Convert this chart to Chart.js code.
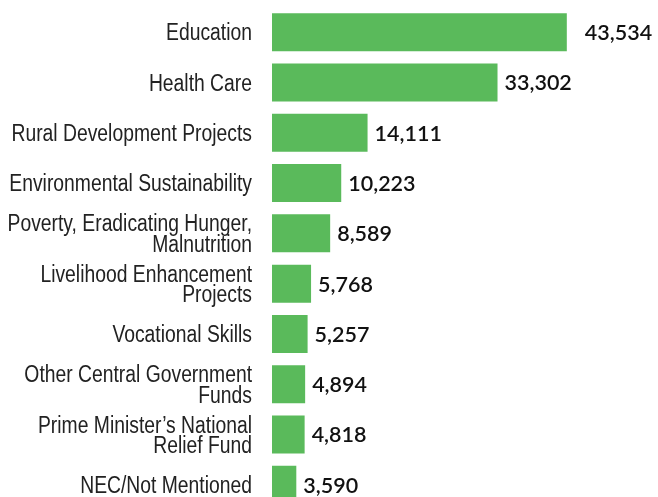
<!DOCTYPE html>
<html>
<head>
<meta charset="utf-8">
<script src="https://cdn.jsdelivr.net/npm/chart.js@4/dist/chart.umd.min.js"></script>
<style>
html,body{margin:0;padding:0;background:#fff;overflow:hidden;}
#wrap{position:relative;width:658px;height:510px;}
</style>
</head>
<body>
<div id="wrap"><canvas id="c" width="658" height="510"></canvas></div>
<script>
const categories = [
  "Education",
  "Health Care",
  "Rural Development Projects",
  "Environmental Sustainability",
  ["Poverty, Eradicating Hunger,", "Malnutrition"],
  ["Livelihood Enhancement", "Projects"],
  "Vocational Skills",
  ["Other Central Government", "Funds"],
  ["Prime Minister\u2019s National", "Relief Fund"],
  "NEC/Not Mentioned"
];
const spending = [43534, 33302, 14111, 10223, 8589, 5768, 5257, 4894, 4818, 3590];

// Category labels drawn in a condensed style (Liberation Sans squeezed horizontally)
const categoryLabels = {
  id: 'categoryLabels',
  afterDraw(chart) {
    const ctx = chart.ctx;
    const y = chart.scales.y;
    const right = chart.chartArea.left - 20;
    const sx = 0.84;
    const lh = 20.5;
    ctx.save();
    ctx.font = '23px "Liberation Sans", Arial, sans-serif';
    ctx.fillStyle = '#222';
    ctx.textAlign = 'right';
    ctx.textBaseline = 'middle';
    ctx.scale(sx, 1);
    chart.data.labels.forEach((lab, i) => {
      const lines = Array.isArray(lab) ? lab : [lab];
      const cy = y.getPixelForTick(i) + 2;
      const start = cy - (lines.length - 1) * lh / 2;
      lines.forEach((ln, j) => ctx.fillText(ln, right / sx, start + j * lh));
    });
    ctx.restore();
  }
};

const valueLabels = {
  id: 'valueLabels',
  afterDatasetsDraw(chart) {
    const ctx = chart.ctx;
    const meta = chart.getDatasetMeta(0);
    const data = chart.data.datasets[0].data;
    const maxV = Math.max(...data);
    ctx.save();
    ctx.font = '600 21.5px Lato';
    ctx.fillStyle = '#111';
    ctx.textBaseline = 'middle';
    ctx.textAlign = 'left';
    meta.data.forEach((bar, i) => {
      const v = data[i];
      const off = v === maxV ? 18 : 7;
      ctx.fillText(v.toLocaleString('en-US'), bar.x + off, bar.y + 1);
    });
    ctx.restore();
  }
};

new Chart(document.getElementById('c'), {
  type: 'bar',
  data: {
    labels: categories,
    datasets: [{
      data: spending,
      backgroundColor: '#5aba5b',
      borderWidth: 0,
      barPercentage: 0.755,
      categoryPercentage: 1
    }]
  },
  options: {
    indexAxis: 'y',
    responsive: false,
    maintainAspectRatio: false,
    animation: false,
    devicePixelRatio: 1,
    layout: { padding: { top: 7, right: 0, bottom: 0, left: 0 } },
    plugins: { legend: { display: false }, tooltip: { enabled: false } },
    scales: {
      x: { display: false, min: 0, max: 57000 },
      y: {
        grid: { display: false },
        border: { display: false },
        afterFit(s) { s.width = 272; },
        ticks: { display: false }
      }
    }
  },
  plugins: [valueLabels, categoryLabels]
});
</script>
</body>
</html>
